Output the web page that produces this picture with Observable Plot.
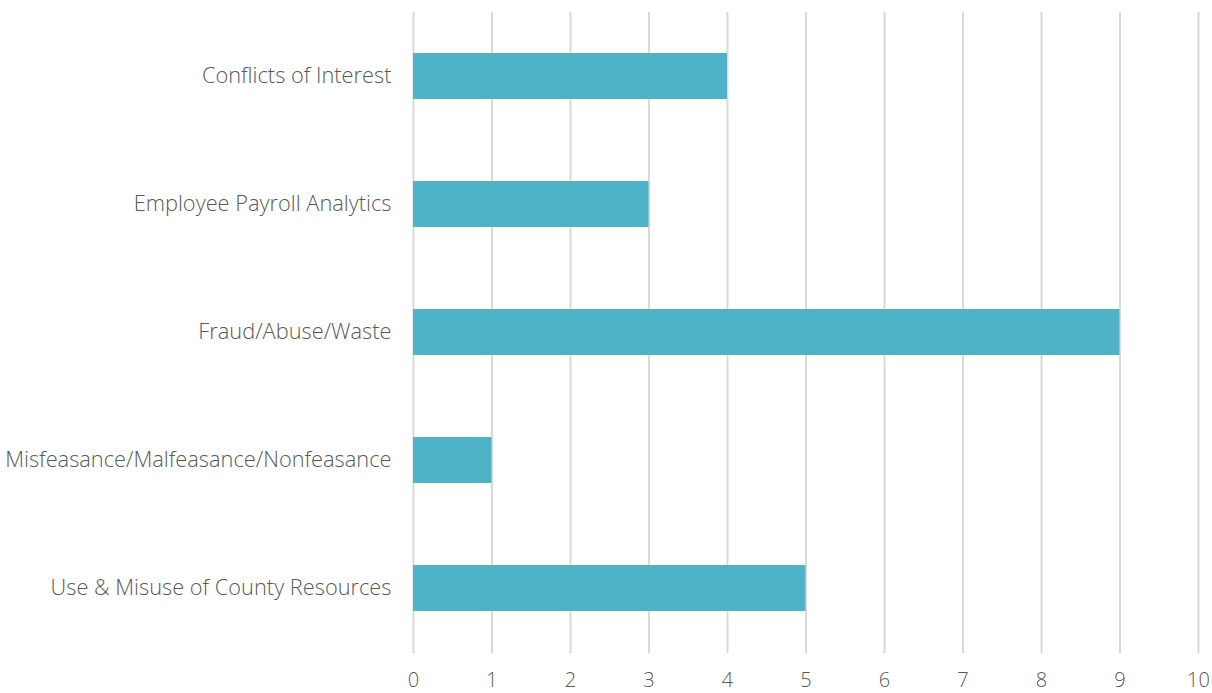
<!DOCTYPE html>
<html>
<head>
<meta charset="utf-8">
<script src="https://cdn.jsdelivr.net/npm/d3@7"></script>
<script src="https://cdn.jsdelivr.net/npm/@observablehq/plot@0.6"></script>
<style>
  html, body { margin: 0; padding: 0; background: #fff; }
  svg { display: block; }
</style>
</head>
<body>
<div id="chart"></div>
<script>
const categories = [
  "Conflicts of Interest",
  "Employee Payroll Analytics",
  "Fraud/Abuse/Waste",
  "Misfeasance/Malfeasance/Nonfeasance",
  "Use & Misuse of County Resources"
];
const counts = [4, 3, 9, 1, 5];
const xTicks = [0, 1, 2, 3, 4, 5, 6, 7, 8, 9, 10];

const data = categories.map((c, i) => ({category: c, count: counts[i]}));

const chart = Plot.plot({
  width: 1212,
  height: 693,
  marginLeft: 413,
  marginRight: 14,
  marginTop: 12,
  marginBottom: 40,
  style: {fontFamily: "'Open Sans', sans-serif", fontSize: "20px", color: "#595959", fontWeight: 300},
  x: {domain: [0, 10], ticks: xTicks, label: null},
  y: {domain: categories, paddingInner: 0.64, paddingOuter: 0.32, label: null},
  marks: [
    Plot.ruleX(xTicks, {stroke: "#d9d9d9", strokeWidth: 2}),
    Plot.barX(data, {x: "count", y: "category", fill: "#4FB3C8"}),
    Plot.axisX({ticks: xTicks, tickSize: 0, tickPadding: 19, fontSize: 20, fill: "#595959"}),
    Plot.axisY({tickSize: 0, tickPadding: 22, fontSize: 21.8, fill: "#595959"})
  ]
});
document.getElementById("chart").appendChild(chart);
</script>
</body>
</html>
